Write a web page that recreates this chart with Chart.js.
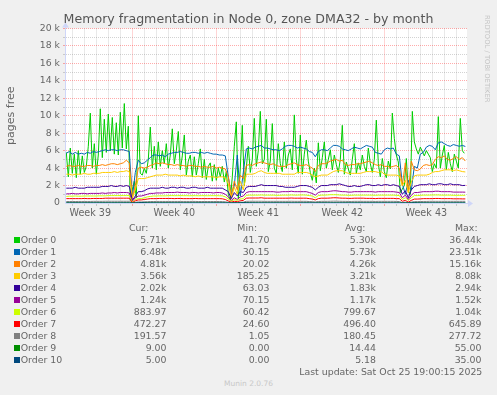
<!DOCTYPE html>
<html><head><meta charset="utf-8">
<script src="https://cdn.jsdelivr.net/npm/chart.js@4.4.1/dist/chart.umd.min.js"></script>
<style>
html,body{margin:0;padding:0;background:#f0f0f0;}
body{width:497px;height:395px;position:relative;overflow:hidden;font-family:"DejaVu Sans",sans-serif;color:#666;}
#c{position:absolute;left:0;top:0;}
.t{position:absolute;white-space:pre;line-height:12px;font-size:9.4px;color:#666;}
.sw{position:absolute;width:6px;height:6px;}
#title{position:absolute;left:0;width:497px;top:11px;text-align:center;font-size:12.6px;line-height:16px;color:#555;}
#rrd{position:absolute;left:483px;top:15px;writing-mode:vertical-rl;font-size:6.8px;line-height:8px;color:#c4c4c4;white-space:pre;}
#munin{position:absolute;left:0;width:497px;text-align:center;top:379px;font-size:7.5px;line-height:10px;color:#c8c8c8;}
</style></head><body>
<canvas id="c" width="497" height="225"></canvas>
<div id="title">Memory fragmentation in Node 0, zone DMA32 - by month</div>
<div id="rrd">RRDTOOL / TOBI OETIKER</div>
<div id="munin">Munin 2.0.76</div>
<div id="legend"></div>
<script>
// values in thousands of pages; Order 0 sampled every 4 hours, the others every 6 hours
const order0 = [5.8,3.0,6.3,3.4,5.6,2.9,6.0,3.3,5.4,3.5,4.2,6.5,10.3,4.0,6.8,3.3,5.5,10.8,5.2,9.6,5.8,10.2,6.0,9.8,5.6,9.2,5.5,10.4,6.3,11.4,6.2,8.8,0.3,1.5,2.5,0.6,10.0,3.4,3.2,4.0,3.4,5.0,8.7,4.0,6.5,3.8,7.0,4.2,6.0,4.5,6.8,4.0,5.5,8.5,4.5,6.0,8.2,3.8,5.4,7.8,3.2,4.8,5.5,3.0,5.3,3.2,4.5,6.2,2.9,5.0,2.7,4.2,4.6,2.5,4.4,2.6,4.0,3.0,4.2,2.4,3.6,1.0,0.3,3.0,6.5,9.3,0.5,4.0,8.9,2.0,4.0,6.5,3.5,5.0,9.7,4.2,6.0,10.5,4.5,5.0,9.6,3.6,4.8,9.1,4.0,3.4,6.8,4.5,3.6,7.0,4.0,5.5,6.2,3.8,10.1,5.0,3.4,7.8,3.3,5.6,7.2,4.8,3.5,2.6,4.0,2.3,6.9,3.7,5.2,7.0,4.0,5.0,6.1,3.8,5.5,4.4,3.5,5.0,8.9,3.3,4.7,3.9,3.2,5.0,6.8,3.4,4.6,3.8,5.5,4.2,3.6,6.3,4.5,3.5,5.0,9.5,4.5,3.0,5.1,3.6,2.9,4.8,3.9,10.3,7.4,5.5,4.7,1.2,1.6,2.0,5.1,1.4,1.0,10.5,7.0,6.2,5.6,6.4,5.9,5.4,6.0,5.6,5.2,3.6,4.5,4.0,9.9,4.0,5.5,6.6,3.8,5.8,4.5,3.6,5.6,4.8,4.0,9.7,6.0,5.7];
const order1 = [5.7,5.9,5.6,5.8,5.6,5.7,5.6,5.8,5.7,5.9,5.8,5.9,6.0,6.1,6.0,6.1,6.1,6.0,6.1,6.1,6.0,5.9,0.6,3.5,4.9,4.5,4.6,4.9,5.2,5.5,5.5,5.4,5.5,5.3,5.6,5.7,5.8,5.8,5.9,5.8,5.7,5.7,5.8,5.8,5.7,5.8,5.7,5.8,5.7,5.6,5.6,5.5,5.5,5.4,3.0,1.0,2.0,5.5,0.8,3.5,6.2,6.3,6.2,6.4,6.5,6.6,6.3,6.3,6.2,6.1,6.1,6.0,6.2,6.5,6.6,6.6,6.5,6.3,6.4,6.3,6.2,5.9,5.8,5.3,5.9,6.1,6.1,6.0,6.3,6.6,6.6,6.5,6.2,6.1,6.0,6.2,6.4,6.3,6.2,6.4,6.6,6.5,6.4,5.8,5.7,5.6,6.1,6.3,6.2,6.3,5.6,5.4,2.2,1.0,2.6,1.5,4.2,4.0,5.6,5.8,6.4,6.6,6.5,6.1,6.9,7.0,6.8,6.6,6.5,6.7,6.6,6.5,6.6,6.48];
const order2 = [4.2,4.3,4.2,4.2,4.3,4.2,4.2,4.3,4.3,4.2,4.3,4.3,4.4,4.3,4.4,4.5,4.5,4.4,4.5,4.6,4.9,4.6,0.5,2.0,4.0,4.1,4.0,4.1,4.3,4.4,4.6,4.5,4.6,4.5,4.4,4.4,4.3,4.4,4.3,4.3,4.2,4.3,4.3,4.2,4.2,4.1,4.2,4.1,4.1,4.2,4.0,4.1,4.0,3.9,3.0,0.8,2.5,1.5,3.2,2.8,4.3,4.4,4.3,4.5,4.6,4.7,4.6,4.5,4.4,4.5,4.3,4.2,4.2,4.2,4.4,4.5,4.6,4.4,4.3,4.3,4.4,4.2,4.0,3.6,4.3,4.5,4.5,4.6,4.8,4.9,5.0,4.8,4.9,4.4,4.3,4.4,4.4,4.5,4.5,4.6,4.7,4.8,4.6,4.4,4.3,4.4,4.2,4.2,4.1,4.2,4.3,4.0,2.0,4.6,1.2,4.8,3.8,3.7,3.9,4.3,4.4,4.3,4.4,5.0,5.3,5.2,5.4,5.0,4.9,5.1,5.3,5.0,5.2,4.81];
const order3 = [3.3,3.3,3.2,3.3,3.3,3.3,3.4,3.3,3.3,3.4,3.4,3.4,3.5,3.5,3.5,3.5,3.6,3.5,3.6,3.6,3.7,3.6,0.6,1.5,2.8,2.8,2.8,2.9,3.0,3.1,3.2,3.2,3.2,3.3,3.2,3.2,3.2,3.2,3.1,3.2,3.1,3.1,3.1,3.0,3.1,3.0,3.0,3.0,3.0,3.0,2.9,3.0,3.0,2.9,2.2,0.6,1.8,1.0,2.5,1.5,3.3,3.3,3.3,3.4,3.6,3.7,3.5,3.4,3.4,3.4,3.4,3.4,3.3,3.3,3.3,3.3,3.3,3.5,3.5,3.5,3.5,3.4,3.2,3.0,3.1,3.2,3.2,3.2,3.4,3.6,3.7,3.7,3.7,3.5,3.4,3.4,3.4,3.4,3.4,3.5,3.6,3.6,3.6,3.6,3.5,3.6,3.3,3.2,3.2,3.2,3.2,3.1,2.0,2.6,1.2,2.4,3.1,3.2,3.2,3.2,3.2,3.3,3.5,3.6,3.6,3.7,3.8,3.8,3.8,3.7,3.8,3.7,3.6,3.56];
const order4 = [1.7,1.7,1.7,1.8,1.7,1.7,1.7,1.8,1.8,1.8,1.8,1.8,1.9,1.9,1.9,2.0,1.9,1.9,2.0,1.9,2.0,1.9,0.3,0.8,1.3,1.3,1.4,1.6,1.7,1.7,1.7,1.7,1.8,1.7,1.7,1.8,1.8,1.7,1.8,1.8,1.7,1.7,1.8,1.8,1.7,1.7,1.7,1.8,1.7,1.7,1.7,1.7,1.7,1.5,1.3,0.5,1.2,0.8,1.3,1.2,1.8,1.9,1.9,1.9,2.0,2.1,2.0,2.0,2.0,2.0,2.0,1.9,1.9,1.8,1.8,1.8,1.8,1.9,2.0,2.0,2.0,1.9,1.8,1.5,1.8,2.0,2.0,2.0,2.1,2.1,2.1,2.2,2.1,2.0,1.9,1.9,2.0,1.9,1.9,2.0,2.1,2.1,2.0,2.0,2.1,2.0,2.1,2.1,2.0,2.1,2.0,1.9,1.0,1.4,0.6,1.5,1.9,2.0,2.1,2.1,2.1,2.2,2.1,2.1,2.2,2.2,2.1,2.1,2.2,2.1,2.1,2.1,2.0,2.02];
const order5 = [1.05,1.05,1.1,1.05,1.05,1.1,1.1,1.05,1.1,1.1,1.1,1.1,1.15,1.1,1.15,1.15,1.2,1.15,1.2,1.2,1.2,1.15,0.2,0.6,0.8,0.8,0.9,1.0,1.1,1.1,1.15,1.15,1.15,1.2,1.2,1.2,1.2,1.25,1.2,1.2,1.2,1.15,1.2,1.2,1.15,1.2,1.2,1.2,1.2,1.15,1.2,1.2,1.15,1.0,0.7,0.3,0.6,0.4,0.7,0.8,1.2,1.3,1.3,1.3,1.3,1.3,1.3,1.3,1.3,1.3,1.25,1.25,1.3,1.3,1.3,1.35,1.3,1.3,1.3,1.3,1.3,1.2,1.1,0.9,1.2,1.3,1.3,1.3,1.35,1.4,1.4,1.35,1.3,1.3,1.25,1.25,1.3,1.3,1.3,1.3,1.3,1.3,1.3,1.25,1.3,1.3,1.3,1.3,1.3,1.3,1.25,1.2,0.6,0.9,0.4,0.9,1.2,1.2,1.25,1.3,1.3,1.3,1.3,1.35,1.35,1.3,1.3,1.3,1.3,1.25,1.25,1.25,1.25,1.24];
const order6 = [0.75,0.78,0.78,0.8,0.78,0.78,0.8,0.8,0.8,0.8,0.8,0.82,0.82,0.82,0.85,0.85,0.85,0.85,0.85,0.85,0.85,0.85,0.1,0.4,0.5,0.5,0.6,0.7,0.75,0.8,0.8,0.82,0.82,0.82,0.84,0.85,0.84,0.84,0.85,0.84,0.84,0.83,0.84,0.84,0.83,0.84,0.84,0.83,0.84,0.84,0.84,0.83,0.82,0.7,0.46,0.2,0.4,0.3,0.45,0.5,0.88,0.9,0.9,0.9,0.9,0.92,0.9,0.9,0.9,0.9,0.88,0.88,0.9,0.9,0.9,0.92,0.9,0.9,0.92,0.92,0.9,0.85,0.8,0.6,0.85,0.9,0.9,0.92,0.95,0.95,0.95,0.92,0.9,0.9,0.88,0.88,0.9,0.9,0.9,0.9,0.9,0.9,0.9,0.88,0.9,0.9,0.9,0.9,0.9,0.9,0.88,0.85,0.4,0.6,0.3,0.6,0.85,0.85,0.88,0.9,0.9,0.9,0.92,0.92,0.92,0.9,0.9,0.9,0.9,0.88,0.88,0.88,0.88,0.88];
const order7 = [0.5,0.5,0.5,0.5,0.5,0.5,0.52,0.5,0.5,0.52,0.52,0.52,0.52,0.55,0.55,0.55,0.55,0.55,0.55,0.55,0.55,0.55,0.05,0.25,0.35,0.35,0.4,0.45,0.5,0.5,0.5,0.52,0.52,0.52,0.52,0.52,0.5,0.52,0.52,0.5,0.5,0.5,0.5,0.52,0.5,0.5,0.5,0.5,0.5,0.5,0.5,0.5,0.48,0.4,0.23,0.1,0.2,0.15,0.25,0.3,0.55,0.57,0.57,0.57,0.57,0.6,0.55,0.55,0.55,0.55,0.55,0.55,0.55,0.55,0.55,0.57,0.55,0.55,0.55,0.55,0.55,0.5,0.45,0.35,0.5,0.55,0.55,0.55,0.57,0.6,0.6,0.57,0.55,0.55,0.53,0.53,0.55,0.55,0.55,0.55,0.53,0.53,0.53,0.5,0.53,0.53,0.53,0.53,0.53,0.53,0.5,0.5,0.2,0.3,0.1,0.3,0.45,0.45,0.47,0.5,0.5,0.5,0.5,0.52,0.52,0.5,0.5,0.5,0.5,0.48,0.48,0.48,0.47,0.47];
const order8 = [0.17,0.17,0.18,0.17,0.18,0.18,0.18,0.18,0.18,0.19,0.19,0.19,0.19,0.2,0.2,0.2,0.2,0.2,0.2,0.2,0.2,0.2,0.01,0.08,0.12,0.12,0.14,0.15,0.17,0.17,0.18,0.18,0.18,0.18,0.18,0.18,0.18,0.18,0.18,0.18,0.18,0.18,0.18,0.18,0.17,0.17,0.17,0.17,0.17,0.17,0.17,0.17,0.16,0.14,0.08,0.02,0.06,0.04,0.08,0.1,0.19,0.2,0.2,0.2,0.2,0.2,0.19,0.19,0.19,0.19,0.19,0.19,0.19,0.19,0.19,0.2,0.19,0.19,0.19,0.19,0.19,0.17,0.15,0.12,0.17,0.19,0.19,0.19,0.2,0.21,0.21,0.2,0.19,0.19,0.18,0.18,0.19,0.19,0.19,0.19,0.19,0.19,0.19,0.18,0.19,0.19,0.19,0.19,0.19,0.19,0.18,0.17,0.05,0.1,0.03,0.1,0.16,0.16,0.17,0.18,0.18,0.19,0.19,0.19,0.19,0.19,0.19,0.19,0.19,0.19,0.19,0.19,0.19,0.19];
const order9 = [0.02,0.02,0.015,0.02,0.02,0.015,0.015,0.02,0.02,0.015,0.015,0.02,0.02,0.02,0.015,0.015,0.02,0.02,0.015,0.02,0.02,0.02,0,0.01,0.02,0.05,0.04,0.03,0.02,0.02,0.015,0.015,0.02,0.02,0.015,0.015,0.01,0.015,0.015,0.01,0.015,0.015,0.01,0.01,0.015,0.015,0.01,0.01,0.01,0.015,0.01,0.01,0.01,0.01,0,0,0.01,0,0.03,0.055,0.04,0.03,0.02,0.02,0.015,0.015,0.015,0.015,0.01,0.015,0.015,0.01,0.01,0.015,0.015,0.01,0.01,0.015,0.01,0.01,0.015,0.01,0.01,0,0.02,0.015,0.015,0.01,0.01,0.015,0.01,0.01,0.01,0.015,0.01,0.01,0.01,0.015,0.01,0.01,0.01,0.015,0.01,0.01,0.01,0.01,0.015,0.01,0.01,0.01,0.01,0.01,0,0,0,0.02,0.04,0.03,0.02,0.015,0.015,0.01,0.01,0.01,0.015,0.01,0.01,0.01,0.01,0.01,0.01,0.01,0.01,0.009];
const order10 = [0.005,0.005,0.005,0.006,0.005,0.005,0.005,0.005,0.006,0.005,0.005,0.005,0.005,0.005,0.006,0.005,0.005,0.005,0.005,0.006,0.005,0.005,0,0.005,0.02,0.035,0.02,0.01,0.008,0.006,0.005,0.005,0.005,0.005,0.005,0.005,0.005,0.005,0.005,0.005,0.005,0.005,0.005,0.005,0.005,0.005,0.005,0.005,0.005,0.005,0.005,0.005,0.005,0.005,0,0,0.005,0,0.015,0.03,0.02,0.01,0.008,0.006,0.005,0.005,0.005,0.005,0.005,0.005,0.005,0.005,0.005,0.005,0.005,0.005,0.005,0.005,0.005,0.005,0.005,0.005,0.005,0.005,0.005,0.005,0.005,0.005,0.005,0.005,0.005,0.005,0.005,0.005,0.005,0.005,0.005,0.005,0.005,0.005,0.005,0.005,0.005,0.005,0.005,0.005,0.005,0.005,0.005,0.005,0.005,0.005,0,0,0,0.01,0.02,0.01,0.006,0.005,0.005,0.005,0.005,0.005,0.005,0.005,0.005,0.005,0.005,0.005,0.005,0.005,0.005,0.005];

const seriesNames = ['Order 0','Order 1','Order 2','Order 3','Order 4','Order 5','Order 6','Order 7','Order 8','Order 9','Order 10'];
const seriesColors = ['#00CC00','#0066B3','#FF8000','#FFCC00','#330099','#990099','#CCFF00','#FF0000','#808080','#008F00','#00487D'];
const curVals = ['5.71k','6.48k','4.81k','3.56k','2.02k','1.24k','883.97','472.27','191.57','9.00','5.00'];
const minVals = ['41.70','30.15','20.02','185.25','63.03','70.15','60.42','24.60','1.05','0.00','0.00'];
const avgVals = ['5.30k','5.73k','4.26k','3.21k','1.83k','1.17k','799.67','496.40','180.45','14.44','5.18'];
const maxVals = ['36.44k','23.51k','15.16k','8.08k','2.94k','1.52k','1.04k','645.89','277.72','55.00','35.00'];
const weekLabels = ['Week 39','Week 40','Week 41','Week 42','Week 43'];
const yTickValues = [0,1,2,3,4,5,6,7,8,9,10,11,12,13,14,15,16,17,18,19,20];

// time axis in days since Monday of week 39
const X_MIN = 1.475, X_MAX = 34.89, SAMPLE_START = 1.5;
const series = [order0,order1,order2,order3,order4,order5,order6,order7,order8,order9,order10];
const sampleHours = [4,6,6,6,6,6,6,6,6,6,6];

const MAJOR = 'rgba(255,0,0,0.33)';
const MINOR = 'rgba(128,128,128,0.35)';
const AXIS = '#CFD6F8';
const FONT = 'DejaVu Sans';

const framePlugin = {
  id: 'frame',
  beforeDraw(c) {
    const {ctx, chartArea: a} = c;
    ctx.save(); ctx.fillStyle = '#ffffff';
    ctx.fillRect(a.left, a.top, a.right - a.left, a.bottom - a.top);
    ctx.restore();
  },
  beforeDatasetsDraw(c) {
    const {ctx, chartArea: a} = c;
    const yb = Math.round(a.bottom) + 0.5, xl = Math.round(a.left) - 0.5;
    ctx.save();
    ctx.strokeStyle = AXIS; ctx.fillStyle = AXIS; ctx.lineWidth = 1;
    ctx.beginPath();
    ctx.moveTo(xl, yb); ctx.lineTo(a.right + 3, yb);
    ctx.moveTo(xl, yb); ctx.lineTo(xl, a.top - 3);
    ctx.stroke();
    ctx.beginPath(); ctx.moveTo(a.right + 1, yb - 3.5); ctx.lineTo(a.right + 6, yb); ctx.lineTo(a.right + 1, yb + 3.5); ctx.closePath(); ctx.fill();
    ctx.beginPath(); ctx.moveTo(xl - 3.5, a.top - 1); ctx.lineTo(xl, a.top - 6); ctx.lineTo(xl + 3.5, a.top - 1); ctx.closePath(); ctx.fill();
    ctx.restore();
  }
};

const dayTicks = [];
for (let d = Math.ceil(X_MIN); d <= Math.floor(X_MAX); d++) dayTicks.push(d);

new Chart(document.getElementById('c'), {
  type: 'line',
  data: {
    datasets: series.map((arr, k) => ({
      label: seriesNames[k],
      data: arr.map((v, i) => ({x: SAMPLE_START + i * sampleHours[k] / 24, y: v})),
      borderColor: seriesColors[k],
      backgroundColor: seriesColors[k],
      borderWidth: 1,
      pointRadius: 0,
      tension: 0,
      borderJoinStyle: 'round',
      order: series.length - k
    }))
  },
  options: {
    responsive: false,
    animation: false,
    devicePixelRatio: 1,
    layout: {padding: {left: 0, right: 30, top: 28.5, bottom: 0}},
    plugins: {legend: {display: false}, tooltip: {enabled: false}, title: {display: false}},
    scales: {
      x: {
        type: 'linear', position: 'bottom', min: X_MIN, max: X_MAX, weight: 0,
        afterBuildTicks: s => { s.ticks = dayTicks.map(v => ({value: v})); },
        afterFit: s => { s.height = 3; },
        ticks: {display: false},
        grid: {color: c => (c.tick.value % 7 === 0 ? MAJOR : MINOR), tickLength: 3, lineWidth: 1},
        border: {display: false, dash: [1, 1]}
      },
      x2: {
        type: 'linear', position: 'bottom', min: X_MIN, max: X_MAX, weight: 1,
        afterBuildTicks: s => { s.ticks = weekLabels.map((_, k) => ({value: 3.5 + 7 * k})); },
        afterFit: s => { s.height = 19; },
        ticks: {callback: (v, i) => weekLabels[i], font: {family: FONT, size: 9.6}, color: '#666', padding: 2, maxRotation: 0, autoSkip: false},
        grid: {display: false, drawTicks: false},
        border: {display: false}
      },
      y: {
        type: 'linear', min: 0, max: 20,
        afterBuildTicks: s => { s.ticks = yTickValues.map(v => ({value: v})); },
        afterFit: s => { s.width = 66; },
        ticks: {callback: v => (v % 2 ? '' : (v === 0 ? '0' : v + ' k')), font: {family: FONT, size: 9.3}, color: '#666', padding: 3, autoSkip: false},
        grid: {color: c => (c.tick.value === 0 ? 'rgba(0,0,0,0)' : (c.tick.value % 2 === 0 ? MAJOR : MINOR)), tickLength: 3, lineWidth: 1},
        border: {display: false, dash: [1, 1]},
        title: {display: true, text: 'pages free', font: {family: FONT, size: 11}, color: '#666', padding: {top: 4.4, bottom: 0}}
      }
    }
  },
  plugins: [framePlugin]
});

// legend table
const leg = document.getElementById('legend');
function txt(s, css) { const d = document.createElement('div'); d.className = 't'; d.textContent = s; Object.assign(d.style, css); leg.appendChild(d); return d; }
const HEADER_Y = 227.5, ROW_Y0 = 239.7, ROW_H = 12;
txt('Cur:', {left: '129px', top: (HEADER_Y - 6) + 'px'});
txt('Min:', {left: '237.3px', top: (HEADER_Y - 6) + 'px'});
txt('Avg:', {left: '345px', top: (HEADER_Y - 6) + 'px'});
txt('Max:', {left: '455px', top: (HEADER_Y - 6) + 'px'});
const colRight = [166.5, 269.5, 376, 481.5];
seriesNames.forEach((n, k) => {
  const cy = ROW_Y0 + k * ROW_H;
  const sw = document.createElement('div'); sw.className = 'sw';
  Object.assign(sw.style, {left: '14px', top: (cy - 3) + 'px', background: seriesColors[k]});
  leg.appendChild(sw);
  txt(n, {left: '20.7px', top: (cy - 6) + 'px'});
  [curVals[k], minVals[k], avgVals[k], maxVals[k]].forEach((v, j) => {
    txt(v, {right: (497 - colRight[j]) + 'px', top: (cy - 6) + 'px'});
  });
});
txt('Last update: Sat Oct 25 19:00:15 2025', {right: (497 - 482.3) + 'px', top: (371.7 - 6) + 'px'});
</script>
</body></html>
